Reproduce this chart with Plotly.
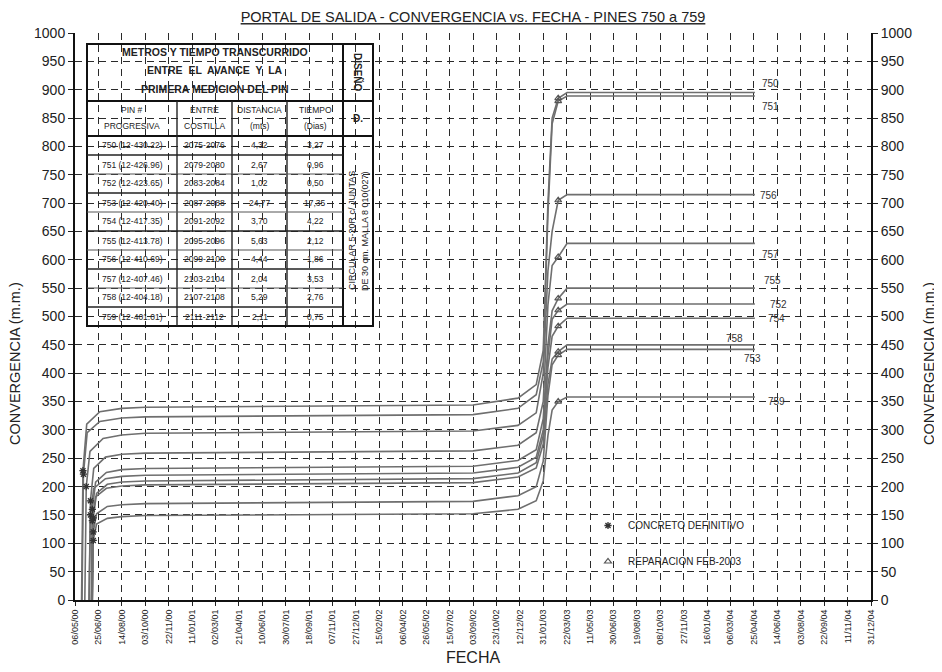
import plotly.graph_objects as go
from datetime import datetime

# ---------------- DATA ----------------
TICK_LABELS = ["06/05/00", "25/06/00", "14/08/00", "03/10/00", "22/11/00", "11/01/01", "02/03/01",
               "21/04/01", "10/06/01", "30/07/01", "18/09/01", "07/11/01", "27/12/01", "15/02/02",
               "06/04/02", "26/05/02", "15/07/02", "03/09/02", "23/10/02", "12/12/02", "31/01/03",
               "22/03/03", "11/05/03", "30/06/03", "19/08/03", "08/10/03", "27/11/03", "16/01/04",
               "06/03/04", "25/04/04", "14/06/04", "03/08/04", "22/09/04", "11/11/04", "31/12/04"]
Y_TICKS = list(range(0, 1001, 50))

PINS = ["750", "751", "752", "753", "754", "755", "756", "757", "758", "759"]

EARLY_DATES = {
    "750": ["2000-05-20", "2000-05-23", "2000-05-31", "2000-06-28"],
    "751": ["2000-05-21", "2000-05-24", "2000-06-01", "2000-06-28"],
    "752": ["2000-06-05", "2000-06-08", "2000-06-15", "2000-07-10"],
    "753": ["2000-06-12", "2000-06-14", "2000-06-21", "2000-07-14"],
    "754": ["2000-06-12", "2000-06-14", "2000-06-21", "2000-07-14"],
    "755": ["2000-06-10", "2000-06-12", "2000-06-19", "2000-07-12"],
    "756": ["2000-05-27", "2000-05-30", "2000-06-07", "2000-07-05"],
    "757": ["2000-06-05", "2000-06-08", "2000-06-15", "2000-07-10"],
    "758": ["2000-06-10", "2000-06-12", "2000-06-19", "2000-07-12"],
    "759": ["2000-06-12", "2000-06-14", "2000-06-21", "2000-07-14"],
}
LATE_DATES = ["2000-08-14", "2000-10-03", "2002-09-03", "2002-12-08", "2003-01-16", "2003-01-31",
              "2003-02-10", "2003-02-19", "2003-03-04", "2003-03-23", "2004-04-27"]

VALUES = {
    "750": [0, 228, 310, 332, 338, 340, 344, 356, 380, 440, 700, 850, 885, 895, 895],
    "751": [0, 222, 295, 315, 321, 323, 327, 338, 362, 420, 680, 840, 880, 889, 889],
    "752": [0, 150, 197, 214, 218, 220, 224, 234, 252, 300, 430, 495, 511, 522, 522],
    "753": [0, 120, 152, 165, 168, 170, 174, 184, 200, 245, 360, 415, 432, 442, 442],
    "754": [0, 145, 188, 204, 208, 210, 214, 224, 242, 290, 410, 465, 483, 497, 497],
    "755": [0, 160, 208, 225, 230, 232, 236, 246, 265, 320, 450, 510, 532, 550, 550],
    "756": [0, 200, 262, 285, 291, 294, 298, 308, 330, 400, 580, 650, 705, 715, 715],
    "757": [0, 175, 232, 252, 257, 259, 263, 273, 295, 350, 520, 590, 605, 629, 629],
    "758": [0, 140, 182, 197, 201, 203, 207, 217, 233, 275, 380, 425, 438, 450, 450],
    "759": [0, 105, 134, 144, 147, 149, 152, 160, 175, 210, 290, 335, 350, 358, 358],
}
CONCRETE_IDX = 1      # "CONCRETO DEFINITIVO" marker point
REPAIR_IDX = 12       # "REPARACION FEB-2003" marker point

TABLE_HEADER = ["METROS Y TIEMPO TRANSCURRIDO", "ENTRE  EL  AVANCE  Y  LA", "PRIMERA MEDICION DEL PIN"]
COL_HEADERS = [("PIN #", "PROGRESIVA"), ("ENTRE", "COSTILLA"), ("DISTANCIA", "(mts)"), ("TIEMPO", "(Dias)")]
TBL_PIN = ["750 (12-430.22)", "751 (12-426.96)", "752 (12-423.65)", "753 (12-420.40)", "754 (12-417.35)",
           "755 (12-413.78)", "756 (12-410.69)", "757 (12-407.46)", "758 (12-404.18)", "759 (12-401.01)"]
TBL_COSTILLA = ["2075-2076", "2079-2080", "2083-2084", "2087-2088", "2091-2092",
                "2095-2096", "2099-2100", "2103-2104", "2107-2108", "2111-2112"]
TBL_DIST = ["4,32", "2,67", "1,02", "24,77", "3,70", "5,63", "4,44", "2,04", "5,29", "2,11"]
TBL_TIEMPO = ["3,27", "0,96", "0,50", "17,35", "4,22", "2,12", "1,86", "3,53", "2,76", "0,75"]

# label offsets (px) for the pin labels at the end of each line
LBL_DX = {"750": 16, "751": 16, "752": 24, "753": -2, "754": 22, "755": 18, "756": 14, "757": 16, "758": -20, "759": 22}
LBL_DY = {"750": 9, "751": -11, "752": 0, "753": -9, "754": 0, "755": 8, "756": -1, "757": -11, "758": 6, "759": -4}

# ---------------- FIGURE ----------------
FONT = "Liberation Sans, Arial, sans-serif"
NARROW = "Liberation Sans Narrow, Liberation Sans, Arial, sans-serif"
LINE_COL = "#6f6f6f"

tickvals = [datetime.strptime(t, "%d/%m/%y").strftime("%Y-%m-%d") for t in TICK_LABELS]

fig = go.Figure()
for p in PINS:
    dates = EARLY_DATES[p] + LATE_DATES
    fig.add_trace(go.Scatter(x=dates, y=VALUES[p], mode="lines", name=p, showlegend=False,
                             line=dict(color=LINE_COL, width=1.6), hoverinfo="x+y+name"))

# markers
cx = [(EARLY_DATES[p] + LATE_DATES)[CONCRETE_IDX] for p in PINS]
cy = [VALUES[p][CONCRETE_IDX] for p in PINS]
rx = [(EARLY_DATES[p] + LATE_DATES)[REPAIR_IDX] for p in PINS]
ry = [VALUES[p][REPAIR_IDX] for p in PINS]
fig.add_trace(go.Scatter(x=cx, y=cy, mode="markers", name="CONCRETO DEFINITIVO", legendgroup="a",
                         marker=dict(symbol="asterisk-open", size=6, color="#333",
                                     line=dict(width=1.3, color="#333"))))
fig.add_trace(go.Scatter(x=rx, y=ry, mode="markers", name="REPARACION FEB-2003", legendgroup="b",
                         marker=dict(symbol="triangle-up-open", size=6, color="#555",
                                     line=dict(width=1.2, color="#555"))))
# invisible trace for right axis
fig.add_trace(go.Scatter(x=[tickvals[0]], y=[0], yaxis="y2", mode="markers", showlegend=False,
                         marker=dict(opacity=0), hoverinfo="skip"))

annotations = []
for p in PINS:
    annotations.append(dict(x=LATE_DATES[-1], y=VALUES[p][-1], xref="x", yref="y", text=p,
                            showarrow=False, xshift=LBL_DX[p], yshift=LBL_DY[p],
                            font=dict(family=NARROW, size=10, color="#333")))

# ---- geometry in reference-picture pixels; the page body adds an 8px offset ----
OFF = 8
W, H = 942 - OFF, 672 - OFF
L, R, T, B = 75, 871, 33, 600


def px(v):
    return (v - L) / (R - L)


def py(v):
    return (B - v) / (B - T)


shapes = []


def hline(x0, x1, y, w=1.2, c="#222"):
    shapes.append(dict(type="line", xref="paper", yref="paper", x0=px(x0), x1=px(x1), y0=py(y), y1=py(y),
                       line=dict(color=c, width=w)))


def vline(x, y0, y1, w=1.2, c="#222"):
    shapes.append(dict(type="line", xref="paper", yref="paper", x0=px(x), x1=px(x), y0=py(y0), y1=py(y1),
                       line=dict(color=c, width=w)))


tl, tr, tt, tb = 87, 373, 44, 326
dcol = 343
cols = [87, 177, 232, 287, 343]
shapes.append(dict(type="rect", xref="paper", yref="paper", x0=px(tl), x1=px(tr), y0=py(tb), y1=py(tt),
                   line=dict(color="#111", width=2)))
vline(dcol, tt, tb, 2, "#111")
hline(tl, tr, 101, 1.8, "#111")
hline(tl, tr, 136, 1.8, "#111")
for c in cols[1:-1]:
    vline(c, 101, tb, 1.4, "#222")
row_h = (tb - 136) / 10
for k in range(1, 10):
    hline(tl, dcol, 136 + k * row_h, 1.3 if k % 2 else 1.0, "#222" if k % 2 else "#555")


def ptext(x, y, t, size=9, angle=0, bold=False, family=NARROW, color="#222"):
    annotations.append(dict(x=px(x), y=py(y), xref="paper", yref="paper", text=(f"<b>{t}</b>" if bold else t),
                            showarrow=False, textangle=angle, xanchor="center", yanchor="middle",
                            font=dict(family=family, size=size, color=color)))


for i, t in enumerate(TABLE_HEADER):
    ptext(215, 52 + i * 18.3, t, size=10.5, bold=True)
for j, (a, b) in enumerate(COL_HEADERS):
    cxm = (cols[j] + cols[j + 1]) / 2
    ptext(cxm, 110, a, size=8.5)
    ptext(cxm, 126, b, size=8.5)
ptext(358, 72, "DISEÑO", size=10, angle=90, bold=True)
ptext(358, 118, "D.", size=10, bold=True)
ptext(352, 231, "CIRCULAR 5-20R c/ JUNTAS", size=9, angle=-90)
ptext(365, 231, "DE 30 cm. MALLA 8 010(027)", size=9, angle=-90)
for i in range(10):
    yc = 136 + (i + 0.5) * row_h
    for j, col in enumerate([TBL_PIN, TBL_COSTILLA, TBL_DIST, TBL_TIEMPO]):
        ptext((cols[j] + cols[j + 1]) / 2, yc, col[i], size=8.5)

# axis titles (placed explicitly)
YTITLE = "CONVERGENCIA (m.m.)"
ptext(15, 364, YTITLE, size=14.5, angle=-90, family=FONT)
ptext(929, 364, YTITLE, size=14.5, angle=-90, family=FONT)

grid = dict(showgrid=True, gridcolor="#2a2a2a", gridwidth=1.2, griddash="7px,5px")

fig.update_layout(
    width=W, height=H,
    margin=dict(l=L - OFF, r=942 - R, t=T - OFF, b=672 - B, autoexpand=False),
    paper_bgcolor="white", plot_bgcolor="white",
    font=dict(family=FONT, color="#222"),
    title=dict(text="<u>PORTAL DE SALIDA - CONVERGENCIA vs. FECHA - PINES 750 a 759</u>",
               x=((L + R) / 2 - OFF) / W, xanchor="center", y=1 - (17 - OFF) / H, yanchor="middle",
               font=dict(family=FONT, size=14.5, color="#222")),
    xaxis=dict(type="date", range=[tickvals[0], tickvals[-1]], tickvals=tickvals, ticktext=TICK_LABELS,
               tickangle=-90, tickfont=dict(family=NARROW, size=9, color="#222"),
               ticks="outside", ticklen=4, tickcolor="#222", automargin=False,
               showline=True, linecolor="#111", linewidth=2, zeroline=False,
               title=dict(text="FECHA", font=dict(family=FONT, size=16, color="#222"), standoff=8),
               **grid),
    yaxis=dict(range=[0, 1000], tickvals=Y_TICKS, tickfont=dict(family=FONT, size=14, color="#222"),
               ticks="outside", ticklen=5, tickcolor="#222", automargin=False,
               showline=True, linecolor="#111", linewidth=2, zeroline=False,
               **grid),
    yaxis2=dict(range=[0, 1000], tickvals=Y_TICKS, overlaying="y", side="right", matches="y",
                tickfont=dict(family=FONT, size=14, color="#222"), automargin=False,
                ticks="outside", ticklen=5, tickcolor="#222",
                showline=True, linecolor="#111", linewidth=2, zeroline=False, showgrid=False),
    legend=dict(x=px(588), y=py(511), xanchor="left", yanchor="top", bgcolor="rgba(0,0,0,0)",
                font=dict(family=NARROW, size=10, color="#222"), tracegroupgap=17, itemwidth=30),
    shapes=shapes,
    annotations=annotations,
    showlegend=True,
)

fig.write_html("out.html")
